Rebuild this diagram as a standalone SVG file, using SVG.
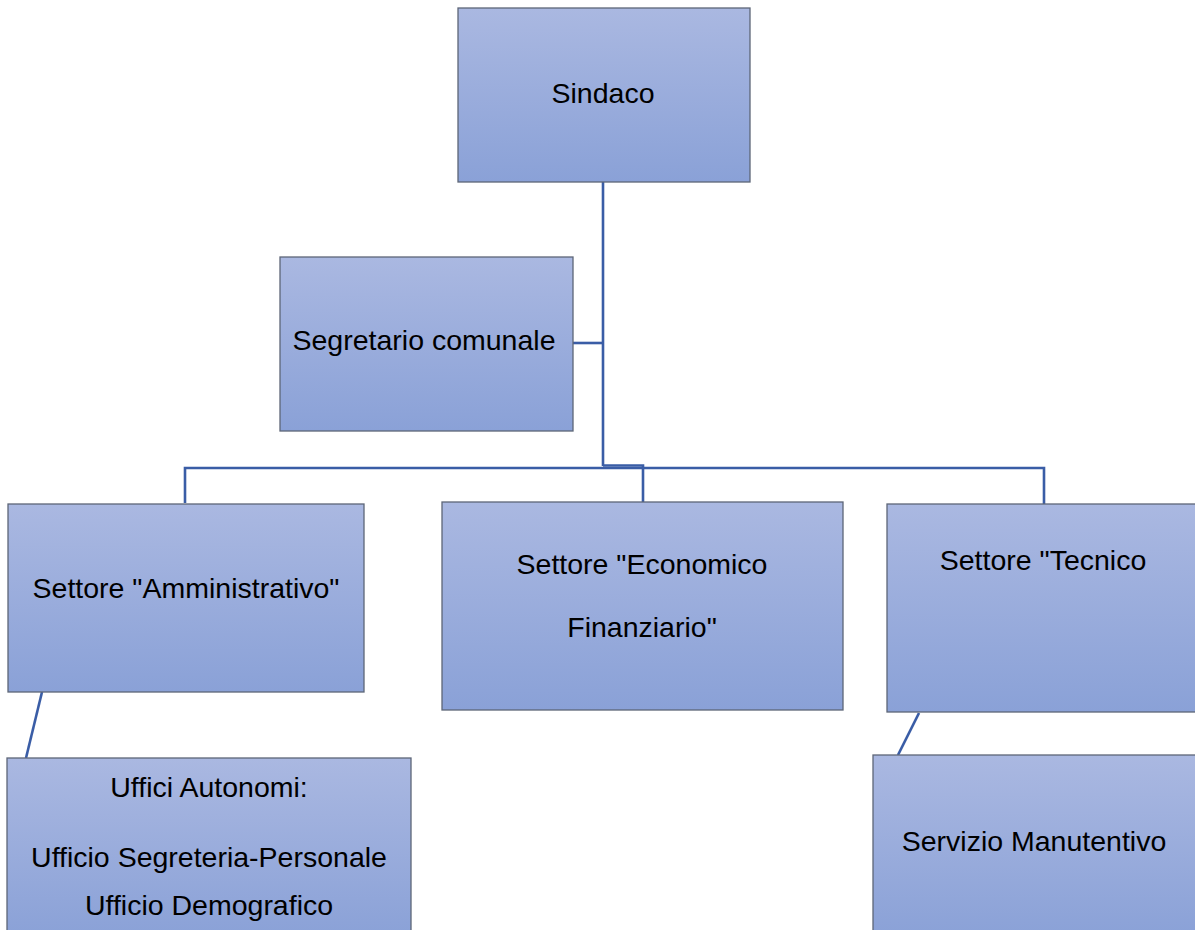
<svg xmlns="http://www.w3.org/2000/svg" width="1195" height="930" viewBox="0 0 1195 930">
<defs>
<linearGradient id="g" x1="0" y1="0" x2="0" y2="1">
<stop offset="0" stop-color="#aab8e1"/>
<stop offset="1" stop-color="#8aa1d7"/>
</linearGradient>
</defs>
<style>
.box{fill:url(#g);stroke:#5d6677;stroke-width:1.3}
.t{font-family:"Liberation Sans",Arial,sans-serif;font-size:28.5px;fill:#000;text-anchor:middle}
.c{fill:none;stroke:#3a5da6;stroke-width:2.6}
</style>
<rect width="1195" height="930" fill="#fff"/>
<g id="connectors">
<path class="c" d="M603 182 V466"/>
<path class="c" d="M573 343 H603"/>
<path class="c" d="M185 503 V468 H1044 V504"/>
<path class="c" d="M603 465.5 H643 V502"/>
<path class="c" d="M42 692 L26 758"/>
<path class="c" d="M919 713 L898 755"/>
</g>
<g id="sindaco">
<rect class="box" x="458" y="8" width="292" height="174"/>
<text class="t" x="603" y="103">Sindaco</text>
</g>
<g id="segretario">
<rect class="box" x="280" y="257" width="293" height="174"/>
<text class="t" x="424" y="350">Segretario comunale</text>
</g>
<g id="amministrativo">
<rect class="box" x="8" y="504" width="356" height="188"/>
<text class="t" x="186" y="598">Settore "Amministrativo"</text>
</g>
<g id="economico">
<rect class="box" x="442" y="502" width="401" height="208"/>
<text class="t" x="642" y="574">Settore "Economico</text>
<text class="t" x="642" y="637">Finanziario"</text>
</g>
<g id="tecnico">
<rect class="box" x="887" y="504" width="320" height="208"/>
<text class="t" x="1043" y="570">Settore "Tecnico</text>
</g>
<g id="uffici">
<rect class="box" x="7" y="758" width="404" height="180"/>
<text class="t" x="209" y="797">Uffici Autonomi:</text>
<text class="t" x="209" y="867">Ufficio Segreteria-Personale</text>
<text class="t" x="209" y="915">Ufficio Demografico</text>
</g>
<g id="servizio">
<rect class="box" x="873" y="755" width="334" height="183"/>
<text class="t" x="1034" y="851">Servizio Manutentivo</text>
</g>
</svg>
